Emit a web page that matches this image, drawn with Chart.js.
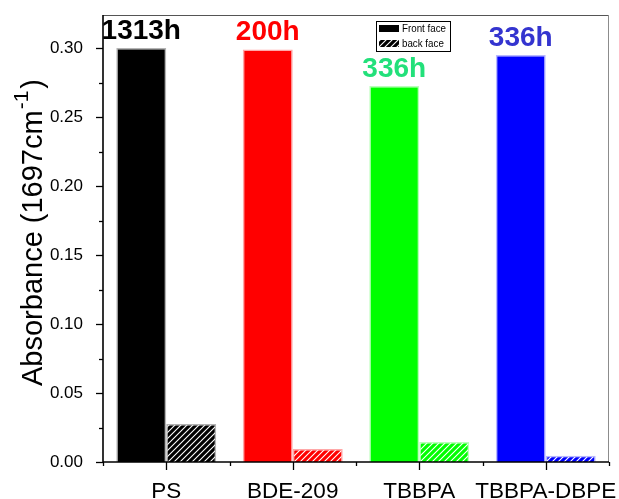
<!DOCTYPE html>
<html><head><meta charset="utf-8">
<script src="https://cdn.jsdelivr.net/npm/chart.js@4"></script>
<style>html,body{margin:0;padding:0;background:#fff}#wrap{width:619px;height:499px}</style>
</head><body><div id="wrap"><canvas id="c" width="619" height="499"></canvas></div>
<script>
const categories = ['PS', 'BDE-209', 'TBBPA', 'TBBPA-DBPE'];
const frontFace = [0.300, 0.299, 0.2725, 0.295];
const backFace = [0.0275, 0.0094, 0.0145, 0.0046];
const exposureHours = ['1313h', '200h', '336h', '336h'];
const seriesNames = ['Front face', 'back face'];
const yTickStep = 0.05;
const yMinorStep = 0.025;
const yMax = 0.324;

const barColors = ['#000000', '#ff0000', '#00ff00', '#0000ff'];
const barEdges = ['#b4b4b4', '#ffa8a8', '#b8ffb8', '#b8b8ff'];
const hourColors = ['#000000', '#ff0000', '#22e07a', '#3434cf'];
const FONT = "'Liberation Sans', Arial, sans-serif";

function hatch(color) {
  const s = 6, c = document.createElement('canvas');
  c.width = s; c.height = s;
  const g = c.getContext('2d');
  g.fillStyle = color; g.fillRect(0, 0, s, s);
  g.strokeStyle = '#ffffff'; g.lineWidth = 1.1;
  g.beginPath();
  g.moveTo(0, s); g.lineTo(s, 0);
  g.moveTo(-1, 1); g.lineTo(1, -1);
  g.moveTo(s - 1, s + 1); g.lineTo(s + 1, s - 1);
  g.stroke();
  return g.createPattern(c, 'repeat');
}

const decor = {
  id: 'decor',
  afterDatasetsDraw(chart) {
    const { ctx, chartArea: a, scales: { x, y } } = chart;
    ctx.save();
    // frame
    ctx.lineWidth = 1;
    ctx.strokeStyle = '#555';
    ctx.beginPath(); ctx.moveTo(a.left, a.top + 0.5); ctx.lineTo(a.right, a.top + 0.5); ctx.stroke();
    ctx.strokeStyle = '#8c8c8c';
    ctx.beginPath(); ctx.moveTo(a.right - 0.5, a.top); ctx.lineTo(a.right - 0.5, a.bottom); ctx.stroke();
    // axes
    ctx.strokeStyle = '#000'; ctx.lineWidth = 1.6;
    ctx.beginPath(); ctx.moveTo(a.left, a.top); ctx.lineTo(a.left, a.bottom); ctx.lineTo(a.right, a.bottom); ctx.stroke();
    // y ticks
    ctx.lineWidth = 1.3;
    const nMinor = Math.floor(yMax / yMinorStep + 1e-6);
    for (let i = 0; i <= nMinor; i++) {
      const py = Math.round(y.getPixelForValue(i * yMinorStep)) + 0.5;
      const len = (i % 2 === 0) ? 7 : 4;
      ctx.beginPath(); ctx.moveTo(a.left - len, py); ctx.lineTo(a.left, py); ctx.stroke();
    }
    // x ticks
    const half = (x.getPixelForValue(1) - x.getPixelForValue(0)) / 2;
    for (let i = 0; i < categories.length; i++) {
      const px = Math.round(x.getPixelForValue(i)) + 0.5;
      ctx.beginPath(); ctx.moveTo(px, a.bottom); ctx.lineTo(px, a.bottom + 8); ctx.stroke();
    }
    for (let i = 0; i <= categories.length; i++) {
      const px = Math.round(x.getPixelForValue(i) - half) + 0.5;
      ctx.beginPath(); ctx.moveTo(px, a.bottom); ctx.lineTo(px, a.bottom + 4); ctx.stroke();
    }
    // hour annotations
    const meta = chart.getDatasetMeta(0);
    ctx.font = 'bold 28px ' + FONT;
    ctx.textAlign = 'center'; ctx.textBaseline = 'alphabetic';
    meta.data.forEach((el, i) => {
      ctx.fillStyle = hourColors[i];
      ctx.fillText(exposureHours[i], el.x, el.y - 9);
    });
    // legend
    const lx = 376, ly = 21, lw = 74, lh = 30;
    ctx.fillStyle = '#fff'; ctx.fillRect(lx, ly, lw, lh);
    ctx.strokeStyle = '#000'; ctx.lineWidth = 1;
    ctx.strokeRect(lx + 0.5, ly + 0.5, lw, lh);
    ctx.fillStyle = '#000';
    ctx.fillRect(lx + 3, ly + 4, 20, 7);
    ctx.fillStyle = hatch('#000000');
    ctx.fillRect(lx + 3, ly + 19, 20, 7);
    ctx.fillStyle = '#000';
    ctx.font = '11.5px ' + FONT; ctx.textAlign = 'left'; ctx.textBaseline = 'middle';
    [0, 1].forEach(k => {
      ctx.save();
      ctx.translate(lx + 26, ly + 8 + 15 * k);
      ctx.scale(0.85, 1);
      ctx.fillText(seriesNames[k], 0, 0);
      ctx.restore();
    });
    // y title
    ctx.save();
    ctx.translate(41.5, 386);
    ctx.rotate(-Math.PI / 2);
    ctx.textAlign = 'left'; ctx.textBaseline = 'alphabetic';
    ctx.font = '29px ' + FONT;
    const base = 'Absorbance (1697cm';
    ctx.fillText(base, 0, 0);
    let w = ctx.measureText(base).width;
    ctx.font = '21px ' + FONT;
    ctx.fillText('-1', w + 1, -14);
    w += ctx.measureText('-1').width + 3;
    ctx.font = '29px ' + FONT;
    ctx.fillText(')', w, 0);
    ctx.restore();
    ctx.restore();
  }
};

new Chart(document.getElementById('c'), {
  type: 'bar',
  data: {
    labels: categories,
    datasets: [
      { label: seriesNames[0], data: frontFace, backgroundColor: barColors, borderColor: barEdges, borderWidth: 1.5 },
      { label: seriesNames[1], data: backFace, backgroundColor: barColors.map(hatch), borderColor: barEdges, borderWidth: 1.5 }
    ]
  },
  options: {
    responsive: false,
    animation: false,
    events: [],
    barPercentage: 1,
    categoryPercentage: 0.79,
    layout: { padding: { top: 15, right: 10, left: 0, bottom: 0 } },
    plugins: { legend: { display: false }, tooltip: { enabled: false }, title: { display: false } },
    scales: {
      x: {
        grid: { display: false }, border: { display: false },
        ticks: { color: '#000', font: { family: FONT, size: 22.5 }, padding: 8, maxRotation: 0, autoSkip: false },
        afterFit(s) { s.height = 37; s.paddingLeft = 0; s.paddingRight = 0; }
      },
      y: {
        min: 0, max: yMax,
        grid: { display: false }, border: { display: false },
        ticks: { stepSize: yTickStep, includeBounds: false, color: '#000', padding: 12,
          font: { family: FONT, size: 17 }, callback: v => Number(v).toFixed(2) },
        afterFit(s) { s.width = 103; s.paddingTop = 0; s.paddingBottom = 0; }
      }
    }
  },
  plugins: [decor]
});
</script>
</body></html>
